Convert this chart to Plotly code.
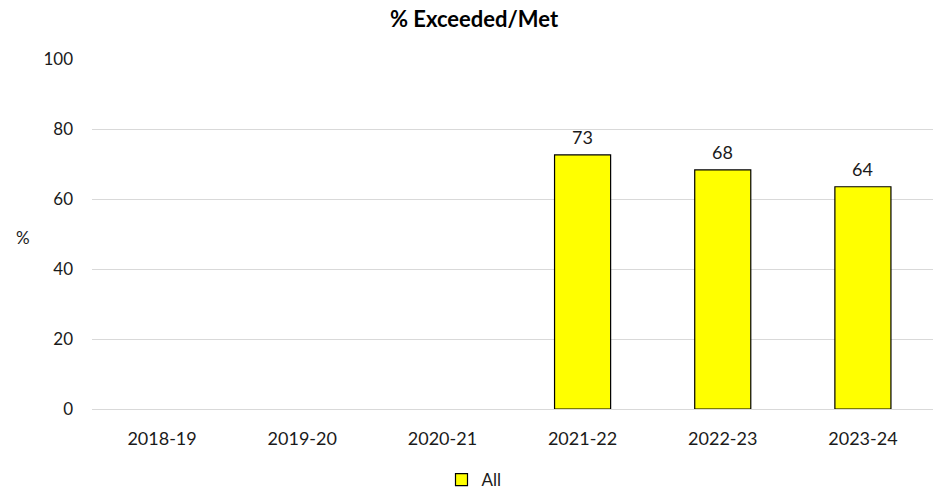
import plotly.graph_objects as go

years = ['2018-19', '2019-20', '2020-21', '2021-22', '2022-23', '2023-24']
pct_all = [None, None, None, 72.6, 68.3, 63.5]

FONT = 'Lato'
TXT = '#1a1a1a'

fig = go.Figure()
fig.add_trace(go.Bar(
    name='All',
    x=years,
    y=pct_all,
    marker=dict(color='#ffff00', line=dict(color='black', width=1.2)),
    width=0.4,
))

# value labels a bit above the bars
annotations = []
for yr, v in zip(years, pct_all):
    if v is not None:
        annotations.append(dict(x=yr, y=v, text=f'{v:.0f}', showarrow=False,
                                yanchor='bottom', yshift=5,
                                font=dict(size=18, color=TXT)))
annotations.append(dict(text='%', xref='paper', yref='paper', x=-0.082, y=0.49,
                        xanchor='center', yanchor='middle', showarrow=False,
                        font=dict(size=17, color=TXT)))

fig.update_layout(
    width=948, height=492,
    margin=dict(l=92, r=15, t=59, b=83, autoexpand=False),
    paper_bgcolor='white', plot_bgcolor='white',
    font=dict(family=FONT, size=17, color=TXT),
    title=dict(text='<b>% Exceeded/Met</b>', x=0.5, xanchor='center',
               y=0.96, yanchor='middle', font=dict(size=22, color='black')),
    xaxis=dict(showgrid=False, showline=True, linecolor='#d9d9d9',
               ticks='', ticklabelstandoff=13, tickfont=dict(size=18)),
    yaxis=dict(range=[0, 100], dtick=20, showgrid=True, gridcolor='#d9d9d9',
               zeroline=False, ticks='', ticklabelstandoff=18,
               tickfont=dict(size=17)),
    showlegend=True,
    legend=dict(orientation='h', xref='container', x=0.5, xanchor='center',
                y=-0.203, yanchor='middle', font=dict(size=17), itemwidth=30),
    annotations=annotations,
)

fig.write_html('out.html', config={'displayModeBar': False},
               post_script="document.body.style.margin='0';")
